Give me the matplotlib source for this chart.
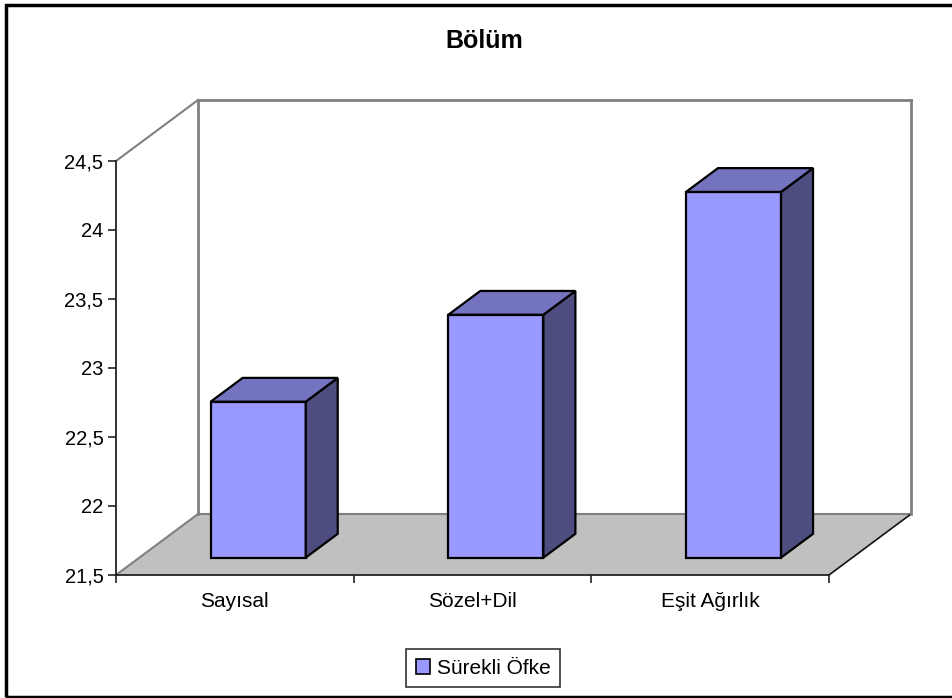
import numpy as np
import matplotlib.pyplot as plt
from matplotlib.patches import Polygon, Rectangle, Patch
from matplotlib.lines import Line2D
from matplotlib.transforms import IdentityTransform

# data
categories = ['Sayısal', 'Sözel+Dil', 'Eşit Ağırlık']
values = [22.63, 23.26, 24.15]
series_name = 'Sürekli Öfke'
y_ticks = [21.5, 22, 22.5, 23, 23.5, 24, 24.5]
y_tick_labels = ['21,5', '22', '22,5', '23', '23,5', '24', '24,5']

plt.rcParams['font.family'] = ['Liberation Sans', 'DejaVu Sans']

W, H = 953, 698
fig = plt.figure(figsize=(W / 100, H / 100), dpi=100)
fig.patch.set_facecolor('white')

# front plane of the 3d box
ax = fig.add_axes([116 / W, (H - 575) / H, (829 - 116) / W, (575 - 161) / H])
ax.set_xlim(0, len(categories))
ax.set_ylim(y_ticks[0], y_ticks[-1])
ax.patch.set_visible(False)
for s in ['top', 'right']:
    ax.spines[s].set_visible(False)
ax.spines['left'].set_color('#222222')
ax.spines['bottom'].set_color('#222222')
ax.spines['left'].set_linewidth(1.3)
ax.spines['bottom'].set_linewidth(1.3)

ax.set_yticks(y_ticks)
ax.set_yticklabels(y_tick_labels)
ax.set_xticks(np.arange(len(categories) + 1))
ax.set_xticklabels([])
ax.set_xticks(np.arange(len(categories)) + 0.5, minor=True)
ax.set_xticklabels(categories, minor=True)
ax.tick_params(axis='y', direction='out', length=6, width=1.2, pad=3, labelsize=14.5, color='#222222')
ax.tick_params(axis='x', which='major', direction='out', length=6, width=1.2, color='#222222')
ax.tick_params(axis='x', which='minor', length=0, pad=12, labelsize=15)

# depth of the box in pixels
DX, DY = 82, 61
y0 = y_ticks[0]
y1 = y_ticks[-1]
n = len(categories)


def proj(x, y, d):
    px, py = ax.transData.transform((x, y))
    return (px + d * DX, py + d * DY)


def face(pts, fc, ec='black', lw=1.6, z=2):
    p = Polygon(pts, closed=True, facecolor=fc, edgecolor=ec, linewidth=lw,
                transform=IdentityTransform(), clip_on=False, zorder=z, joinstyle='miter')
    ax.add_patch(p)


def edge(a, b, color, lw=1.5, z=1.5):
    ln = Line2D([a[0], b[0]], [a[1], b[1]], color=color, linewidth=lw,
                transform=IdentityTransform(), clip_on=False, zorder=z)
    ax.add_line(ln)


# floor
face([proj(0, y0, 0), proj(n, y0, 0), proj(n, y0, 1), proj(0, y0, 1)], '#C0C0C0', ec='none', z=1)
edge(proj(0, y0, 0), proj(0, y0, 1), '#808080')
edge(proj(0, y0, 1), proj(n, y0, 1), '#808080')
edge(proj(n, y0, 0), proj(n, y0, 1), '#111111', lw=1.2)

# back walls
edge(proj(0, y1, 0), proj(0, y1, 1), '#808080')
edge(proj(0, y0, 1), proj(0, y1, 1), '#808080', lw=2)
edge(proj(0, y1, 1), proj(n, y1, 1), '#808080', lw=2)
edge(proj(n, y1, 1), proj(n, y0, 1), '#808080', lw=2)

# bars
front_col = '#9999FF'
top_col = '#7373BF'
side_col = '#4D4D80'
d0, d1 = 0.285, 0.675
for i, v in enumerate(values):
    xa, xb = i + 0.3, i + 0.7
    face([proj(xa, y0, d0), proj(xb, y0, d0), proj(xb, v, d0), proj(xa, v, d0)], front_col, z=3)
    face([proj(xb, y0, d0), proj(xb, y0, d1), proj(xb, v, d1), proj(xb, v, d0)], side_col, z=3)
    face([proj(xa, v, d0), proj(xb, v, d0), proj(xb, v, d1), proj(xa, v, d1)], top_col, z=3)

fig.text(484 / W, 1 - 41 / H, 'Bölüm', ha='center', va='center', fontsize=18, fontweight='bold')

leg = fig.legend(handles=[Patch(facecolor=front_col, edgecolor='black', linewidth=1.2, label=series_name)],
                 loc='center', bbox_to_anchor=(483 / W, 1 - 668 / H), fontsize=15,
                 frameon=True, fancybox=False, handlelength=0.7, handleheight=0.7,
                 handletextpad=0.3, borderpad=0.45, borderaxespad=0)
leg.get_frame().set_edgecolor('black')
leg.get_frame().set_linewidth(1.2)

# outer border
fig.patches.append(Rectangle((6, H - 697), W + 10, 692.5, fill=False, edgecolor='black',
                             linewidth=2.5, transform=IdentityTransform(), figure=fig))

fig.savefig('out.png', dpi=100)
